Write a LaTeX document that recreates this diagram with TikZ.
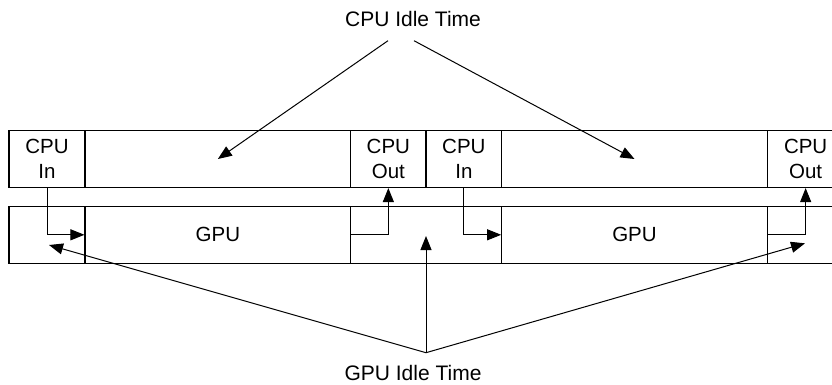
\documentclass[tikz,border=0pt]{standalone}
\usepackage{fontspec}
\setmainfont{Liberation Sans}
\usetikzlibrary{arrows.meta,calc}
\begin{document}
\begin{tikzpicture}[x=1pt,y=-1pt,
  cell/.style={draw, line width=1.1pt, inner sep=0pt, minimum height=57pt, align=center,
    font=\fontsize{20.5}{25}\selectfont},
  lbl/.style={inner sep=0pt, anchor=base, font=\fontsize{21}{25}\selectfont},
  arr/.style={line width=1pt, -{Triangle[length=14pt,width=11pt]}},
  ln/.style={line width=1pt}]
\clip (0,0) rectangle (832,384);
% top row
\node[cell, minimum width=76pt]    (cin1)   at (47,159)     {CPU\\In};
\node[cell, minimum width=265.7pt] (cidle1) at (217.85,159) {};
\node[cell, minimum width=75.3pt]  (cout1)  at (388.35,159) {CPU\\Out};
\node[cell, minimum width=75.7pt]  (cin2)   at (463.85,159) {CPU\\In};
\node[cell, minimum width=265.6pt] (cidle2) at (634.5,159)  {};
\node[cell, minimum width=76.7pt]  (cout2)  at (805.65,159) {CPU\\Out};
% bottom row
\node[cell, minimum width=76pt]    (gidle1) at (47,234.8)     {};
\node[cell, minimum width=265.7pt] (gpu1)   at (217.85,234.8) {GPU};
\node[cell, minimum width=151pt]   (gidle2) at (426.2,234.8)  {};
\node[cell, minimum width=265.6pt] (gpu2)   at (634.5,234.8)  {GPU};
\node[cell, minimum width=76.7pt]  (gidle3) at (805.65,234.8) {};
% transfers
\draw[arr] (cin1.south) |- (gpu1.west);
\draw[arr] (gpu1.east) -| (cout1.south);
\draw[arr] (cin2.south) |- (gpu2.west);
\draw[arr] (gpu2.east) -| (cout2.south);
% labels
\node[lbl] (cpuidle) at (413,26.7) {CPU Idle Time};
\node[lbl] (gpuidle) at (413,380.7) {GPU Idle Time};
\coordinate (cs1) at (388,40.7);
\coordinate (cs2) at (414,40.7);
\coordinate (gconv) at (426,352.7);
\coordinate (gt1) at (49,245);
\coordinate (gt2) at (426,236);
\coordinate (gt3) at (805,243.3);
\draw[arr] (cs1) -- (cidle1.center);
\draw[arr] (cs2) -- (cidle2.center);
\draw[arr] (gconv) -- (gt1);
\draw[arr] (gconv) -- (gt2);
\draw[arr] (gconv) -- (gt3);
\end{tikzpicture}
\end{document}
